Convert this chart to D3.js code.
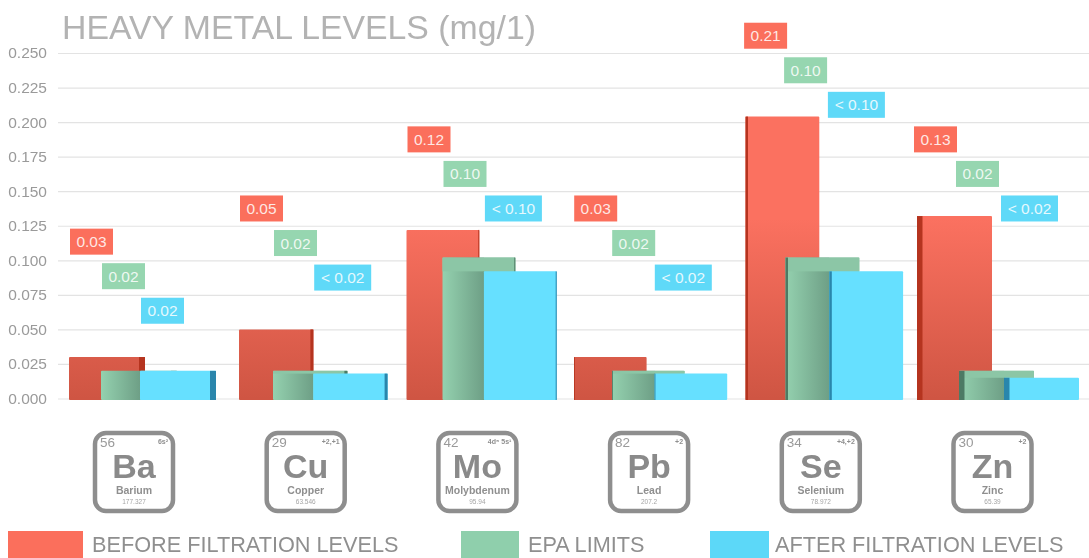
<!DOCTYPE html>
<html>
<head>
<meta charset="utf-8">
<script src="https://cdn.jsdelivr.net/npm/d3@7"></script>
<style>
  html, body { margin: 0; padding: 0; background: #fff; overflow: hidden; }
  svg { display: block; font-family: "Liberation Sans", sans-serif; filter: blur(0.4px); }
</style>
</head>
<body>
<div id="chart"></div>
<script>
// values
const symbols = ["Ba", "Cu", "Mo", "Pb", "Se", "Zn"];
const names = ["Barium", "Copper", "Molybdenum", "Lead", "Selenium", "Zinc"];
const numbers = ["56", "29", "42", "82", "34", "30"];
const masses = ["177.327", "63.546", "95.94", "207.2", "78.972", "65.39"];
const configs = ["6s²", "+2,+1", "4d⁵ 5s¹", "+2", "+4,+2", "+2"];

const before = [0.03, 0.05, 0.122, 0.03, 0.204, 0.132];
const epa = [0.02, 0.02, 0.102, 0.02, 0.102, 0.02];
const after = [0.02, 0.018, 0.092, 0.018, 0.092, 0.015];

const beforeLabels = ["0.03", "0.05", "0.12", "0.03", "0.21", "0.13"];
const epaLabels = ["0.02", "0.02", "0.10", "0.02", "0.10", "0.02"];
const afterLabels = ["0.02", "< 0.02", "< 0.10", "< 0.02", "< 0.10", "< 0.02"];
// height of the top label in each group, in axis units
const labelLevels = [0.1135, 0.1375, 0.1875, 0.1375, 0.2625, 0.1875];

const yTicks = [0, 0.025, 0.05, 0.075, 0.1, 0.125, 0.15, 0.175, 0.2, 0.225, 0.25];
const legendNames = ["BEFORE FILTRATION LEVELS", "EPA LIMITS", "AFTER FILTRATION LEVELS"];

const width = 1089, height = 558;
const red = "#fb6f5c", green = "#8fcfac", blue = "#66e0ff";

const svg = d3.select("#chart").append("svg")
    .attr("width", width)
    .attr("height", height);

// y axis + grid
const y = d3.scaleLinear().domain([0, 0.25]).range([398.5, 53]);

const gAxis = svg.append("g")
    .attr("transform", "translate(58,0)")
    .call(d3.axisLeft(y).tickValues(yTicks).tickFormat(d3.format(".3f"))
      .tickSize(-(width - 58)).tickPadding(11));
gAxis.select(".domain").remove();
gAxis.selectAll("line").attr("stroke", "#e3e3e3").attr("stroke-width", 1.2);
gAxis.selectAll("text")
    .attr("fill", "#9a9a9a")
    .style("font-family", "'Liberation Sans', sans-serif")
    .style("font-size", "15.5px");

// title
svg.append("text")
    .attr("x", 62).attr("y", 39)
    .attr("fill", "#b3b3b3")
    .style("font-size", "33.8px")
    .text("HEAVY METAL LEVELS (mg/1)");

// the photo has some perspective, so the groups drift a little across the chart
const mid = (symbols.length - 1) / 2, last = symbols.length - 1;
const xLeft = d3.scaleLinear().domain([0, 1, 3, 5]).range([69, 239, 574, 917]);
const barWidth = d3.scaleLinear().domain([0, mid, last]).range([76, 72, 75]);
const sideDepth = d3.scaleLinear().domain([0, 1, mid, 4, last]).range([6, 3, 0, -2.5, -5.5]);
const labelShift = d3.scaleLinear().domain([0, mid, last]).range([1, 1, -3]);
const epaOffset = d3.scaleLinear().domain([0, last]).range([32, 42]);
const afterOffset = d3.scaleLinear().domain([0, last]).range([71, 87]);

const defs = svg.append("defs");

// red darkens towards the floor, short bars stay dark all over
const gradRed = defs.append("linearGradient").attr("id", "gradRed")
    .attr("gradientUnits", "userSpaceOnUse")
    .attr("x1", 0).attr("x2", 0)
    .attr("y1", y(0.13)).attr("y2", y(0));
gradRed.append("stop").attr("offset", 0).attr("stop-color", "#fb7160");
gradRed.append("stop").attr("offset", 1).attr("stop-color", "#cf5543");

// green sits in the blue bar's shadow up to where the blue bar starts
symbols.forEach((d, i) => {
  const edge = (afterOffset(i) - epaOffset(i)) / barWidth(i);
  const g = defs.append("linearGradient").attr("id", "gradGreen" + i);
  g.append("stop").attr("offset", 0).attr("stop-color", "#94d1af");
  g.append("stop").attr("offset", edge).attr("stop-color", "#6e9f86");
  g.append("stop").attr("offset", edge).attr("stop-color", "#8cc6a6");
});

const series = [
  { values: before, labels: beforeLabels, offset: () => 0, fill: () => "url(#gradRed)", side: "#b5341f", label: red },
  { values: epa, labels: epaLabels, offset: epaOffset, fill: i => `url(#gradGreen${i})`, side: "#4d7a64", label: "#96d6b0" },
  { values: after, labels: afterLabels, offset: afterOffset, fill: () => blue, side: "#2a86ac", label: "#5fd9f8" }
];

const bars = svg.append("g");
series.forEach(s => {
  const g = bars.append("g");
  const barX = i => xLeft(i) + s.offset(i);
  g.selectAll(".bar")
    .data(s.values)
    .join("rect")
      .attr("class", "bar")
      .attr("x", (d, i) => barX(i))
      .attr("y", d => y(d))
      .attr("width", (d, i) => barWidth(i))
      .attr("height", d => y(0) - y(d) + 1.5)
      .attr("rx", 1)
      .attr("fill", (d, i) => s.fill(i));
  // the part of the green bar above the blue one catches no shadow
  if (s.values === epa) {
    g.selectAll(".top")
      .data(s.values)
      .join("rect")
        .attr("class", "top")
        .attr("x", (d, i) => barX(i))
        .attr("y", d => y(d))
        .attr("width", (d, i) => barWidth(i))
        .attr("height", (d, i) => y(after[i]) - y(d))
        .attr("fill", "#8cc6a6");
  }
  // darker side face, on the right left of centre and on the left right of centre
  g.selectAll(".side")
    .data(s.values)
    .join("rect")
      .attr("class", "side")
      .attr("x", (d, i) => sideDepth(i) > 0 ? barX(i) + barWidth(i) - sideDepth(i) : barX(i))
      .attr("y", d => y(d))
      .attr("width", (d, i) => Math.abs(sideDepth(i)))
      .attr("height", d => y(0) - y(d) + 1.5)
      .attr("fill", s.side);
});

// value labels
const labelH = 26;
series.forEach((s, k) => {
  const g = svg.append("g").selectAll("g")
    .data(s.labels)
    .join("g")
      .attr("transform", (d, i) => `translate(${xLeft(i) + s.offset(i) + labelShift(i)},${y(labelLevels[i] - k * 0.025)})`);
  const w = d => d.startsWith("<") ? 57 : 43;
  g.append("rect")
    .attr("y", -labelH / 2)
    .attr("width", w)
    .attr("height", labelH)
    .attr("fill", s.label);
  g.append("text")
    .attr("x", d => w(d) / 2)
    .attr("y", 5.5)
    .attr("text-anchor", "middle")
    .attr("fill", "#fff")
    .attr("fill-opacity", 0.85)
    .style("font-size", "15.5px")
    .text(d => d);
});

// element tiles
const xTile = d3.scalePoint().domain(symbols).range([134, 992.5]);
const tileSize = 78;
const tiles = svg.append("g").selectAll("g")
  .data(symbols)
  .join("g")
    .attr("transform", d => `translate(${xTile(d)},472)`);
tiles.append("rect")
    .attr("x", -tileSize / 2).attr("y", -tileSize / 2)
    .attr("width", tileSize).attr("height", tileSize)
    .attr("rx", 11)
    .attr("fill", "#fff")
    .attr("stroke", "#8e8e8e")
    .attr("stroke-width", 4.5);
tiles.append("text")
    .attr("y", 5.5)
    .attr("text-anchor", "middle")
    .attr("font-weight", "bold")
    .attr("fill", "#8a8a8a")
    .style("font-size", "34px")
    .text(d => d);
tiles.append("text")
    .attr("y", 21.5)
    .attr("text-anchor", "middle")
    .attr("font-weight", "bold")
    .attr("fill", "#8f8f8f")
    .style("font-size", "10.5px")
    .text((d, i) => names[i]);
tiles.append("text")
    .attr("y", 32)
    .attr("text-anchor", "middle")
    .attr("fill", "#a5a5a5")
    .style("font-size", "6.5px")
    .text((d, i) => masses[i]);
tiles.append("text")
    .attr("x", -34).attr("y", -25)
    .attr("fill", "#9a9a9a")
    .style("font-size", "13.5px")
    .text((d, i) => numbers[i]);
tiles.append("text")
    .attr("x", 34).attr("y", -28)
    .attr("text-anchor", "end")
    .attr("font-weight", "bold")
    .attr("fill", "#8f8f8f")
    .style("font-size", "7px")
    .text((d, i) => configs[i]);

// legend, runs off the bottom of the picture like the original
const xLegend = d3.scaleOrdinal().domain(legendNames).range([8, 461, 710]);
const legendW = d3.scaleOrdinal().domain(legendNames).range([75, 58, 59]);
const legendText = d3.scaleOrdinal().domain(legendNames).range([92, 528, 775]);
const legendFill = d3.scaleOrdinal().domain(legendNames).range([red, green, "#5cd8f8"]);

const legend = svg.append("g").selectAll("g")
  .data(legendNames)
  .join("g");
legend.append("rect")
    .attr("x", d => xLegend(d))
    .attr("y", 531)
    .attr("width", d => legendW(d))
    .attr("height", 30)
    .attr("fill", d => legendFill(d));
legend.append("text")
    .attr("x", d => legendText(d))
    .attr("y", 552)
    .attr("fill", "#8f8f8f")
    .style("font-size", "21.7px")
    .text(d => d);
</script>
</body>
</html>
